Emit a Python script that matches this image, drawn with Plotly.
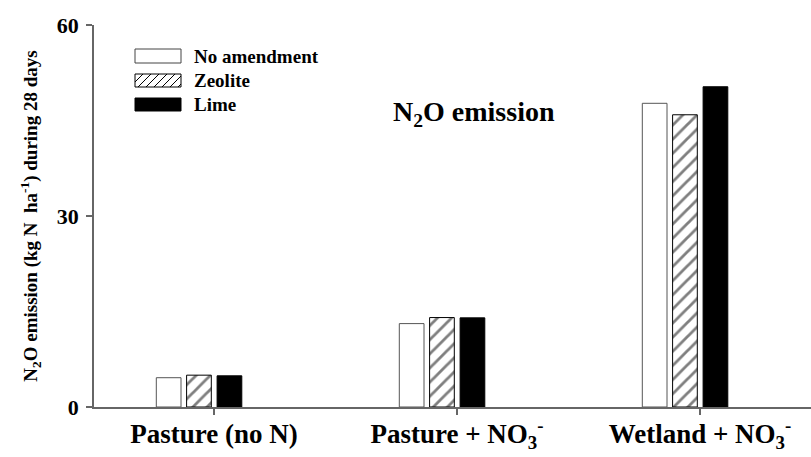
import plotly.graph_objects as go

# ---- data ----
categories = ["Pasture (no N)", "Pasture + NO<sub>3</sub><sup>-</sup>", "Wetland + NO<sub>3</sub><sup>-</sup>"]
series_names = ["No amendment", "Zeolite", "Lime"]
no_amendment = [4.6, 13.1, 47.7]
zeolite = [5.0, 14.05, 45.9]
lime = [4.9, 14.0, 50.3]
y_ticks = [0, 30, 60]

# ---- figure geometry (pixels) ----
W, H = 811, 457
L, R, T, B = 94, 0, 25, 50
PW, PH = W - L - R, H - T - B
cat_pos = list(range(len(categories)))
unit_px = 243.0
x_range = [-(214 - L) / unit_px, (W - R - 214) / unit_px]

FONT = "Liberation Serif, Times New Roman, serif"
bar_w = 24.7 / unit_px
offsets = [-57.7 / unit_px, -27.4 / unit_px, 3.1 / unit_px]

def b(t):
    return "<b>" + t + "</b>"

fig = go.Figure()
styles = [
    dict(color="white", line=dict(color="#555", width=1)),
    dict(color="white", line=dict(color="black", width=1),
         pattern=dict(shape="/", fgcolor="black", bgcolor="white", size=10, solidity=0.28)),
    dict(color="black", line=dict(color="black", width=1)),
]
for name, vals, st, off in zip(series_names, [no_amendment, zeolite, lime], styles, offsets):
    fig.add_trace(go.Bar(x=cat_pos, y=vals, name=name, width=bar_w, offset=off,
                         marker=st, showlegend=False))

def px2paper(x, y):
    return (x - L) / PW, (H - B - y) / PH

# custom legend
shapes = []
annos = []
rows = [(49, 63), (74, 87), (98, 111)]
bx0, bx1 = 135, 181
for i, ((y0, y1), name) in enumerate(zip(rows, series_names)):
    px0, py0 = px2paper(bx0, y1)
    px1, py1 = px2paper(bx1, y0)
    fill = "black" if i == 2 else "white"
    shapes.append(dict(type="rect", xref="paper", yref="paper", x0=px0, x1=px1, y0=py0, y1=py1,
                       fillcolor=fill, line=dict(color="black" if i else "#444", width=1)))
    if i == 1:
        step = 8
        h = y1 - y0
        path = ""
        xs = bx0 - h
        while xs < bx1:
            xa, ya = xs, y1
            xb, yb = xs + h, y0
            if xa < bx0:
                ya = y1 - (bx0 - xa)
                xa = bx0
            if xb > bx1:
                yb = y0 + (xb - bx1)
                xb = bx1
            if xb > xa:
                a = px2paper(xa, ya)
                c = px2paper(xb, yb)
                path += f"M{a[0]},{a[1]} L{c[0]},{c[1]} "
            xs += step
        shapes.append(dict(type="path", xref="paper", yref="paper", path=path,
                           line=dict(color="black", width=1)))
    tx, ty = px2paper(192, (y0 + y1) / 2)
    annos.append(dict(xref="paper", yref="paper", x=tx, y=ty, xanchor="left", yanchor="middle",
                      text=b(name), showarrow=False,
                      font=dict(family=FONT, size=19, color="black")))

ax, ay = px2paper(474, 113)
annos.append(dict(xref="paper", yref="paper", x=ax, y=ay, xanchor="center", yanchor="middle",
                  text=b("N<sub>2</sub>O emission"), showarrow=False,
                  font=dict(family=FONT, size=28, color="black")))

fig.update_layout(
    width=W, height=H,
    margin=dict(l=L, r=R, t=T, b=B),
    paper_bgcolor="white", plot_bgcolor="white",
    barmode="overlay",
    shapes=shapes, annotations=annos,
    font=dict(family=FONT, color="black"),
)
fig.update_xaxes(range=x_range, tickvals=cat_pos, ticktext=[b(c) for c in categories],
                 showline=True, linecolor="#666", linewidth=1.5,
                 ticks="outside", ticklen=6, tickcolor="#666", tickwidth=1.5,
                 ticklabelstandoff=-4,
                 showgrid=False, zeroline=False,
                 tickfont=dict(family=FONT, size=27, color="black"))
fig.update_yaxes(range=[0, 60], tickvals=y_ticks, ticktext=[b(str(v)) for v in y_ticks],
                 showline=True, linecolor="#666", linewidth=1.5,
                 ticks="outside", ticklen=6, tickcolor="#666", tickwidth=1.5,
                 ticklabelstandoff=3,
                 showgrid=False, zeroline=False,
                 tickfont=dict(family=FONT, size=22, color="black"),
                 title=dict(text=b("N<sub>2</sub>O emission (kg N  ha<sup>-1</sup>) during 28 days"),
                            font=dict(family=FONT, size=19, color="black"),
                            standoff=14))
fig.write_html("out.html")
